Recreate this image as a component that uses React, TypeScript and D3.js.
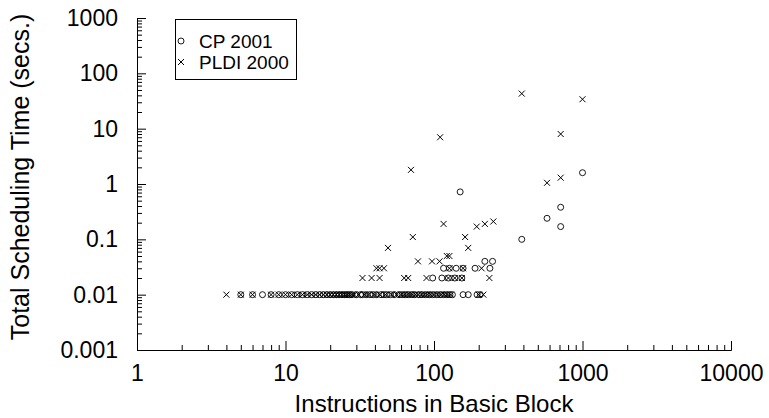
// Scatter plot: scheduling time vs basic block size (log-log), CP 2001 vs PLDI 2000

import React, { useEffect, useRef } from "react"
import * as d3 from "d3"

// [instructions, seconds]
const cpPoints: [number, number][] = [
  [5, 0.01], [6, 0.01], [7, 0.01], [8, 0.01], [9, 0.01], [10, 0.01], [11, 0.01], [12, 0.01],
  [13, 0.01], [14, 0.01], [15, 0.01], [16, 0.01], [17, 0.01], [18, 0.01], [19, 0.01], [20, 0.01],
  [21, 0.01], [22, 0.01], [23, 0.01], [24, 0.01], [25, 0.01], [26, 0.01], [27, 0.01], [28, 0.01],
  [30, 0.01], [32, 0.01], [33, 0.01], [35, 0.01], [37, 0.01], [39, 0.01], [41, 0.01], [44, 0.01],
  [46, 0.01], [48, 0.01], [51, 0.01], [54, 0.01], [58, 0.01], [61, 0.01], [64, 0.01], [67, 0.01],
  [71, 0.01], [74, 0.01], [79, 0.01], [83, 0.01], [88, 0.01], [93, 0.01], [98, 0.01], [104, 0.01],
  [110, 0.01], [116, 0.01], [122, 0.01], [128, 0.01], [133, 0.01], [157, 0.01], [170, 0.01],
  [195, 0.01], [205, 0.01],
  [98, 0.02], [113, 0.02], [125, 0.02], [138, 0.02], [154, 0.02],
  [116, 0.03], [127, 0.03], [141, 0.03], [157, 0.03], [189, 0.03], [238, 0.03],
  [220, 0.04], [248, 0.04],
  [390, 0.1], [713, 0.17], [577, 0.24], [713, 0.38], [150, 0.72], [1000, 1.6],
]

const pldiPoints: [number, number][] = [
  [4, 0.01], [5, 0.01], [6, 0.01], [8, 0.01], [9, 0.01], [10, 0.01], [11, 0.01], [12, 0.01],
  [13, 0.01], [14, 0.01], [15, 0.01], [16, 0.01], [17, 0.01], [18, 0.01], [19, 0.01], [20, 0.01],
  [21, 0.01], [22, 0.01], [23, 0.01], [24, 0.01], [25, 0.01], [26, 0.01], [27, 0.01], [28, 0.01],
  [29, 0.01], [31, 0.01], [34, 0.01], [36, 0.01], [40, 0.01], [43, 0.01], [47, 0.01], [52, 0.01],
  [56, 0.01], [60, 0.01], [63, 0.01], [66, 0.01], [69, 0.01], [72, 0.01], [75, 0.01], [78, 0.01],
  [82, 0.01], [86, 0.01], [90, 0.01], [95, 0.01], [100, 0.01], [106, 0.01], [112, 0.01],
  [118, 0.01], [124, 0.01], [130, 0.01], [200, 0.01], [215, 0.01],
  [33, 0.02], [38, 0.02], [43, 0.02], [63, 0.02], [67, 0.02], [89, 0.02], [125, 0.02],
  [138, 0.02], [154, 0.02], [236, 0.02],
  [41, 0.03], [43, 0.03], [46, 0.03], [127, 0.03], [157, 0.03], [209, 0.03],
  [78, 0.04], [97, 0.04], [109, 0.04], [122, 0.05], [127, 0.05],
  [49, 0.07], [170, 0.07], [72, 0.11], [162, 0.11], [194, 0.17], [116, 0.19], [220, 0.19],
  [251, 0.21], [577, 1.05], [713, 1.3], [70, 1.8], [110, 7], [713, 8], [1000, 34], [390, 43],
]

const xTicks = [1, 10, 100, 1000, 10000]
const yTicks = [0.001, 0.01, 0.1, 1, 10, 100, 1000]
const seriesNames = ["CP 2001", "PLDI 2000"]

const FONT = "'Liberation Sans', Arial, Helvetica, sans-serif"

export default function App() {
  const ref = useRef<SVGSVGElement>(null)

  useEffect(() => {
    const svg = d3.select(ref.current)
    svg.selectAll("*").remove()

    const W = 769, H = 418
    const left = 137, right = 731, top = 18, bottom = 350

    const x = d3.scaleLog().domain([1, 10000]).range([left, right])
    const y = d3.scaleLog().domain([0.001, 1000]).range([bottom, top])

    svg.attr("width", W).attr("height", H)

    const xMinor = x.ticks().filter(t => !xTicks.includes(t))
    const yMinor = y.ticks().filter(t => !yTicks.includes(t))

    // x axis
    const gx = svg.append("g").attr("transform", `translate(0,${bottom})`)
    gx.call(
      d3.axisBottom(x).tickValues(xTicks).tickFormat(d => String(d))
        .tickSizeInner(-9).tickSizeOuter(0).tickPadding(15)
    )
    gx.append("g").call(
      d3.axisBottom(x).tickValues(xMinor).tickFormat(() => "")
        .tickSizeInner(-5).tickSizeOuter(0)
    )

    // y axis
    const gy = svg.append("g").attr("transform", `translate(${left},0)`)
    gy.call(
      d3.axisLeft(y).tickValues(yTicks).tickFormat(d => String(d))
        .tickSizeInner(-9).tickSizeOuter(0).tickPadding(19)
    )
    gy.append("g").call(
      d3.axisLeft(y).tickValues(yMinor).tickFormat(() => "")
        .tickSizeInner(-5).tickSizeOuter(0)
    )

    svg.selectAll(".tick text")
      .attr("font-family", FONT)
      .attr("font-size", 23)
      .attr("fill", "#000")
    svg.selectAll(".domain, .tick line").attr("stroke", "#000").attr("stroke-width", 1)

    // titles
    svg.append("text")
      .attr("x", (left + right) / 2).attr("y", 412)
      .attr("text-anchor", "middle")
      .attr("font-family", FONT).attr("font-size", 24)
      .text("Instructions in Basic Block")

    svg.append("text")
      .attr("transform", `translate(29,177) rotate(-90)`)
      .attr("text-anchor", "middle")
      .attr("font-family", FONT).attr("font-size", 25)
      .text("Total Scheduling Time (secs.)")

    const r = 3
    const drawCircle = (g: any, cx: number, cy: number) =>
      g.append("circle").attr("cx", cx).attr("cy", cy).attr("r", r)
        .attr("fill", "none").attr("stroke", "#000").attr("stroke-width", 0.9)

    const drawCross = (g: any, cx: number, cy: number) =>
      g.append("path")
        .attr("d", `M${cx - r},${cy - r}L${cx + r},${cy + r}M${cx - r},${cy + r}L${cx + r},${cy - r}`)
        .attr("stroke", "#000").attr("stroke-width", 1).attr("fill", "none")

    const marks = svg.append("g")
    cpPoints.forEach(d => drawCircle(marks, x(d[0]), y(d[1])))
    pldiPoints.forEach(d => drawCross(marks, x(d[0]), y(d[1])))

    // legend
    const lg = svg.append("g")
    lg.append("rect")
      .attr("x", 175.5).attr("y", 19.5).attr("width", 121).attr("height", 60)
      .attr("fill", "#fff").attr("stroke", "#000").attr("stroke-width", 1)
    drawCircle(lg, 181, 41)
    drawCross(lg, 181, 62)
    seriesNames.forEach((name, i) => {
      lg.append("text")
        .attr("x", 199).attr("y", 48 + i * 21)
        .attr("font-family", FONT).attr("font-size", 19)
        .text(name)
    })
  }, [])

  return (
    <svg ref={ref} style={{ position: "absolute", left: 0, top: 0 }} />
  )
}
